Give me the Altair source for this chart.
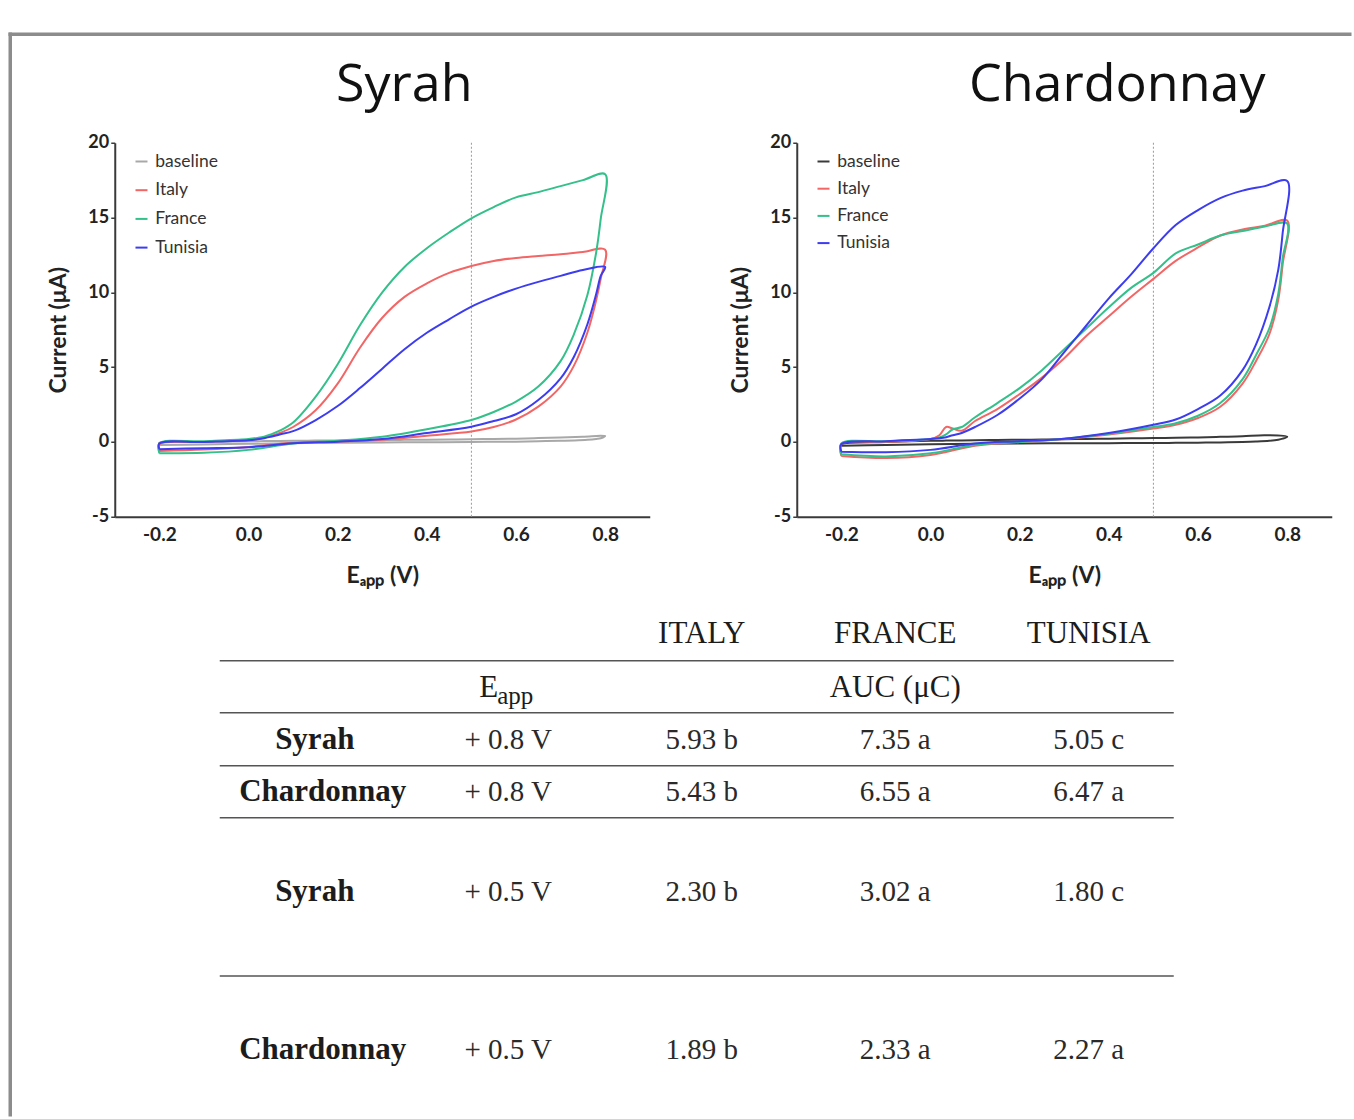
import altair as alt
import pandas as pd

# ---------------- data ----------------
SERIES = ["baseline", "Italy", "France", "Tunisia"]

# potential sample points of forward (lower) and reverse (upper) scan branches
E_FWD = [-0.2, -0.1, 0.0, 0.1, 0.2, 0.3, 0.4, 0.5, 0.55, 0.6, 0.65, 0.7, 0.73, 0.76, 0.78, 0.79, 0.8]
E_REV = [0.8, 0.75, 0.7, 0.65, 0.6, 0.55, 0.5, 0.45, 0.4, 0.35, 0.3, 0.25, 0.2, 0.15, 0.1,
         0.07, 0.05, 0.035, 0.02, 0.0, -0.1, -0.2]

# Syrah currents (uA)
SY_BASE_FWD = [-0.2, -0.17, -0.12, -0.08, -0.05, -0.03, -0.02, 0.0, 0.01, 0.02, 0.05, 0.08, 0.1, 0.14, 0.2, 0.25, 0.4]
SY_BASE_REV = [0.45, 0.35, 0.3, 0.26, 0.22, 0.2, 0.18, 0.16, 0.15, 0.14, 0.12, 0.11, 0.1, 0.09, 0.08,
               0.07, 0.06, 0.06, 0.05, 0.05, 0.0, -0.05]
SY_IT_FWD = [-0.6, -0.5, -0.33, -0.05, 0.02, 0.15, 0.42, 0.7, 1.0, 1.5, 2.36, 3.7, 5.1, 7.3, 9.5, 10.9, 12.85]
SY_IT_REV = [12.85, 12.7, 12.55, 12.43, 12.3, 12.1, 11.76, 11.3, 10.6, 9.7, 8.3, 6.3, 3.9, 2.1, 1.0,
             0.6, 0.4, 0.28, 0.2, 0.15, 0.0, -0.15]
SY_FR_FWD = [-0.75, -0.72, -0.53, -0.1, 0.08, 0.35, 0.85, 1.47, 2.0, 2.7, 3.7, 5.4, 7.2, 9.8, 12.7, 14.9, 17.9]
SY_FR_REV = [17.9, 17.5, 17.1, 16.7, 16.35, 15.7, 14.95, 14.0, 12.95, 11.7, 10.0, 7.8, 5.2, 3.0, 1.3,
             0.75, 0.5, 0.35, 0.27, 0.2, 0.05, -0.1]
SY_TU_FWD = [-0.48, -0.42, -0.35, -0.08, 0.02, 0.2, 0.6, 1.02, 1.4, 1.85, 2.8, 4.25, 5.7, 7.85, 9.9, 11.1, 11.7]
SY_TU_REV = [11.7, 11.5, 11.1, 10.7, 10.25, 9.7, 9.05, 8.2, 7.3, 6.2, 4.9, 3.6, 2.4, 1.45, 0.72,
             0.5, 0.35, 0.25, 0.18, 0.12, 0.0, -0.1]

# Chardonnay currents (uA)
CH_BASE_FWD = [-0.25, -0.2, -0.15, -0.12, -0.1, -0.09, -0.08, -0.07, -0.06, -0.05, -0.03, 0.0, 0.03, 0.08, 0.15, 0.22, 0.35]
CH_BASE_REV = [0.6, 0.45, 0.38, 0.34, 0.3, 0.28, 0.26, 0.24, 0.22, 0.2, 0.18, 0.16, 0.15, 0.13, 0.11,
               0.1, 0.09, 0.09, 0.08, 0.08, 0.0, -0.15]
CH_IT_FWD = [-0.94, -1.08, -0.87, -0.25, 0.0, 0.2, 0.5, 0.9, 1.15, 1.6, 2.35, 3.9, 5.4, 7.2, 9.5, 11.9, 14.8]
CH_IT_REV = [14.8, 14.45, 14.2, 13.8, 13.0, 12.1, 10.9, 9.7, 8.4, 7.1, 5.6, 4.3, 3.2, 2.2, 1.4,
             0.75, 0.9, 1.0, 0.45, 0.2, 0.0, -0.15]
CH_FR_FWD = [-0.83, -0.97, -0.76, -0.2, 0.0, 0.22, 0.55, 1.0, 1.25, 1.75, 2.6, 4.2, 5.8, 7.6, 9.9, 12.3, 14.6]
CH_FR_REV = [14.6, 14.4, 14.1, 13.8, 13.2, 12.6, 11.3, 10.3, 9.0, 7.6, 6.2, 4.8, 3.6, 2.6, 1.65,
             1.0, 0.85, 0.5, 0.3, 0.2, 0.05, -0.1]
CH_TU_FWD = [-0.65, -0.69, -0.53, -0.1, 0.05, 0.22, 0.6, 1.15, 1.5, 2.2, 3.1, 4.8, 6.5, 9.0, 11.5, 14.0, 17.45]
CH_TU_REV = [17.45, 17.1, 16.8, 16.3, 15.5, 14.5, 12.95, 11.2, 9.6, 7.8, 6.0, 4.2, 2.9, 1.8, 1.0,
             0.6, 0.45, 0.32, 0.25, 0.2, 0.05, -0.15]

E_MARKER = [0.5]
X_TICKS = [-0.2, 0.0, 0.2, 0.4, 0.6, 0.8]
Y_TICKS = [-5, 0, 5, 10, 15, 20]

# table
TABLE_COLUMNS = ["variety", "eapp", "italy", "france", "tunisia"]
TABLE_HEADERS = ["ITALY", "FRANCE", "TUNISIA"]
TABLE_VARIETY = ["Syrah", "Chardonnay", "Syrah", "Chardonnay"]
TABLE_EAPP = ["+ 0.8 V", "+ 0.8 V", "+ 0.5 V", "+ 0.5 V"]
AUC_ITALY = ["5.93 b", "5.43 b", "2.30 b", "1.89 b"]
AUC_FRANCE = ["7.35 a", "6.55 a", "3.02 a", "2.33 a"]
AUC_TUNISIA = ["5.05 c", "6.47 a", "1.80 c", "2.27 a"]

# table layout (row slots, one slot ~ 52 px)
HEAD_SLOT = 0.0
UNIT_SLOT = 1.04
BODY_SLOTS = [2.04, 3.04, 4.96, 8.0]
RULE_SLOTS = [0.52, 1.52, 2.54, 3.54, 6.58]

RED, GREEN, BLUE = "#f26666", "#33c08a", "#3c3cf0"


def loop_frame(curves):
    rows = []
    for s in SERIES:
        fwd, rev = curves[s]
        k = 0
        for e, i in zip(E_FWD, fwd):
            rows.append({"E": e, "I": i, "series": s, "step": k})
            k += 1
        for e, i in zip(E_REV[1:], rev[1:]):
            rows.append({"E": e, "I": i, "series": s, "step": k})
            k += 1
        rows.append({"E": E_FWD[0], "I": fwd[0], "series": s, "step": k})
    return pd.DataFrame(rows)


syrah_df = loop_frame({
    "baseline": (SY_BASE_FWD, SY_BASE_REV),
    "Italy": (SY_IT_FWD, SY_IT_REV),
    "France": (SY_FR_FWD, SY_FR_REV),
    "Tunisia": (SY_TU_FWD, SY_TU_REV),
})
chard_df = loop_frame({
    "baseline": (CH_BASE_FWD, CH_BASE_REV),
    "Italy": (CH_IT_FWD, CH_IT_REV),
    "France": (CH_FR_FWD, CH_FR_REV),
    "Tunisia": (CH_TU_FWD, CH_TU_REV),
})

PLOT_W, PLOT_H = 535, 374
AXIS_FONT = "Lato"


def cv_panel(name, df, colors, title_dx, row_pad):
    x = alt.X("E:Q",
              scale=alt.Scale(domain=[-0.3, 0.9], nice=False, zero=False),
              axis=alt.Axis(values=X_TICKS, format=".1f",
                            labelExpr="replace(datum.label, '\u2212', '-')",
                            title="E\u2090\u209a\u209a (V)", ticks=False,
                            labelPadding=9, titlePadding=20))
    y = alt.Y("I:Q",
              scale=alt.Scale(domain=[-5, 20], nice=False, zero=False),
              axis=alt.Axis(values=Y_TICKS, format="d",
                            labelExpr="replace(datum.label, '\u2212', '-')",
                            title="Current (\u03bcA)", tickSize=4, labelFontSize=18,
                            labelPadding=2, titlePadding=17))
    color = alt.Color("series:N",
                      scale=alt.Scale(domain=SERIES, range=colors),
                      legend=alt.Legend(title=None, orient="none", legendX=18, legendY=10,
                                        symbolType="stroke", symbolSize=144,
                                        symbolStrokeWidth=2, labelFont=AXIS_FONT,
                                        labelFontSize=17.5, labelColor="#333",
                                        labelOffset=5, rowPadding=row_pad))
    lines = alt.Chart(df).mark_line(interpolate="catmull-rom", strokeWidth=2).encode(
        x=x, y=y, color=color, order="step:Q")
    marker = alt.Chart(pd.DataFrame({"E": E_MARKER})).mark_rule(
        color="#9a9a9a", strokeWidth=1, strokeDash=[2, 2]).encode(x="E:Q")
    return alt.layer(marker, lines).properties(
        width=PLOT_W, height=PLOT_H,
        title=alt.TitleParams(name, font="Open Sans", fontSize=52, fontWeight="normal",
                              color="#111", anchor="middle", frame="group", dx=title_dx,
                              offset=22))


syrah = cv_panel("Syrah", syrah_df, ["#a8a8a8", RED, GREEN, BLUE], 22, 9.7)
chard = cv_panel("Chardonnay", chard_df, ["#3a3a3a", RED, GREEN, BLUE], 53, 8.2)

# ---------------- table ----------------
SERIF = "Liberation Serif"
xcol = alt.X("col:N", scale=alt.Scale(domain=TABLE_COLUMNS, type="point", range=[200, 974], padding=0),
             axis=None)
yslot = alt.Y("slot:Q", scale=alt.Scale(domain=[-0.5, 9.0], reverse=True, nice=False, zero=False),
              axis=None)

head_df = pd.DataFrame({"col": TABLE_COLUMNS[2:], "slot": [HEAD_SLOT] * 3, "text": TABLE_HEADERS})
auc_df = pd.DataFrame({"col": ["france"], "slot": [UNIT_SLOT], "text": ["AUC (\u03bcC)"]})
e_df = pd.DataFrame({"col": ["eapp"], "slot": [UNIT_SLOT], "text": ["E"]})
app_df = pd.DataFrame({"col": ["eapp"], "slot": [UNIT_SLOT], "text": ["app"]})
var_syrah_df = pd.DataFrame({"col": ["variety"] * 2, "slot": [BODY_SLOTS[0], BODY_SLOTS[2]],
                             "text": [TABLE_VARIETY[0], TABLE_VARIETY[2]]})
var_chard_df = pd.DataFrame({"col": ["variety"] * 2, "slot": [BODY_SLOTS[1], BODY_SLOTS[3]],
                             "text": [TABLE_VARIETY[1], TABLE_VARIETY[3]]})
val_rows = []
for j in range(4):
    for c, vals in zip(["eapp", "italy", "france", "tunisia"],
                       [TABLE_EAPP, AUC_ITALY, AUC_FRANCE, AUC_TUNISIA]):
        val_rows.append({"col": c, "slot": BODY_SLOTS[j], "text": vals[j]})
val_df = pd.DataFrame(val_rows)
rule_df = pd.DataFrame({"slot": RULE_SLOTS})

TXT = "#1c1c1c"
t_head = alt.Chart(head_df).mark_text(font=SERIF, fontSize=31, color=TXT, baseline="middle").encode(
    x=xcol, y=yslot, text="text:N")
t_auc = alt.Chart(auc_df).mark_text(font=SERIF, fontSize=31, color=TXT, baseline="middle").encode(
    x=xcol, y=yslot, text="text:N")
t_e = alt.Chart(e_df).mark_text(font=SERIF, fontSize=31, color=TXT, baseline="middle",
                                align="right", dx=-10).encode(x=xcol, y=yslot, text="text:N")
t_app = alt.Chart(app_df).mark_text(font=SERIF, fontSize=25, color=TXT, baseline="middle",
                                    align="left", dx=-11, dy=8).encode(x=xcol, y=yslot, text="text:N")
t_var1 = alt.Chart(var_syrah_df).mark_text(font=SERIF, fontSize=31, fontWeight="bold", color=TXT,
                                           baseline="middle").encode(x=xcol, y=yslot, text="text:N")
t_var2 = alt.Chart(var_chard_df).mark_text(font=SERIF, fontSize=31, fontWeight="bold", color=TXT,
                                           baseline="middle", dx=8).encode(x=xcol, y=yslot, text="text:N")
t_val = alt.Chart(val_df).mark_text(font=SERIF, fontSize=29, color="#2a2a2a", baseline="middle").encode(
    x=xcol, y=yslot, text="text:N")
t_rules = alt.Chart(rule_df).mark_rule(color="#555", strokeWidth=1.5).encode(
    y=yslot, x=alt.value(105), x2=alt.value(1059))

# page frame (decoration, drawn relative to the table view origin)
one = pd.DataFrame({"k": [0]})
frame_left = alt.Chart(one).mark_rule(color="#8c8c8c", strokeWidth=3.5, strokeCap="square").encode(
    x=alt.value(-104.5), y=alt.value(-573.5), y2=alt.value(507))
frame_top = alt.Chart(one).mark_rule(color="#8c8c8c", strokeWidth=3.5, strokeCap="square").encode(
    x=alt.value(-104.5), x2=alt.value(1235), y=alt.value(-573.5))

table = alt.layer(frame_left, frame_top, t_rules, t_head, t_auc, t_e, t_app, t_var1, t_var2,
                  t_val).properties(width=1080, height=494)

top_row = alt.hconcat(syrah, chard, spacing=147, bounds="flush").resolve_scale(
    color="independent").resolve_legend(color="independent")

chart = alt.vconcat(top_row, table, spacing=465, bounds="flush").resolve_scale(
    color="independent").resolve_legend(color="independent").properties(
    padding={"left": 6.75, "top": 30.75, "right": 0, "bottom": 0},
    background="white"
).configure_view(stroke="transparent").configure_axis(
    grid=False, domainColor="#3a3a3a", domainWidth=2, tickColor="#3a3a3a", tickWidth=1.5,
    labelFont=AXIS_FONT, labelFontWeight="bold", labelFontSize=19, labelColor="#222",
    titleFont=AXIS_FONT, titleFontWeight="bold", titleFontSize=23, titleColor="#222"
)

chart.save("out.html", embed_options={"renderer": "svg", "actions": False})
